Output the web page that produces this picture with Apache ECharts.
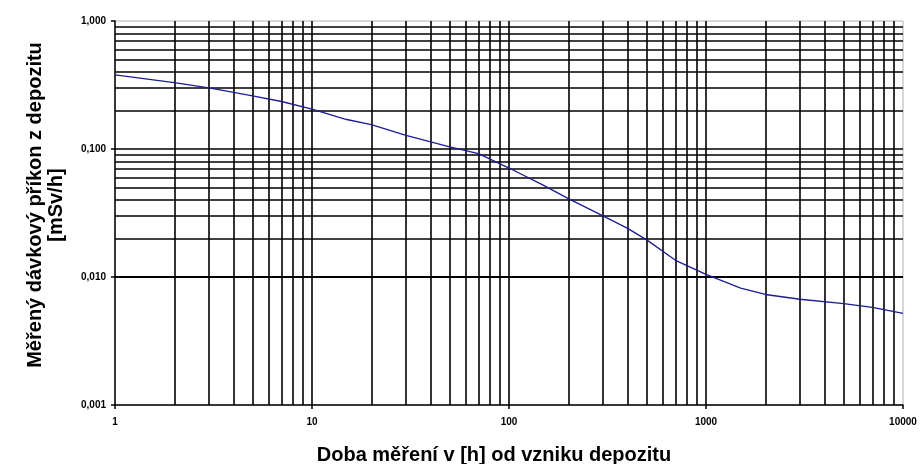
<!DOCTYPE html>
<html>
<head>
<meta charset="utf-8">
<script src="https://cdn.jsdelivr.net/npm/echarts@6/dist/echarts.min.js"></script>
<style>
  html, body { margin: 0; padding: 0; background: #fff; }
  #chart { width: 922px; height: 464px; }
</style>
</head>
<body>
<div id="chart"></div>
<script>
// Measurement time since deposition [h] and dose rate [mSv/h]
const hours = [1, 2, 3, 5, 7, 10, 15, 20, 30, 50, 70, 100, 150, 200, 300, 400, 500, 700, 1000, 1500, 2000, 3000, 5000, 7000, 10000];
const doseRate = [0.38, 0.33, 0.30, 0.26, 0.235, 0.205, 0.17, 0.155, 0.128, 0.104, 0.092, 0.071, 0.052, 0.041, 0.030, 0.024, 0.0195, 0.0135, 0.0105, 0.0082, 0.0073, 0.0067, 0.0062, 0.0058, 0.0052];

// Axis ranges (decades)
const xMin = 1, xMax = 10000;
const yMin = 0.001, yMax = 1;

const xTitle = 'Doba měření v [h] od vzniku depozitu';
const yTitle = 'Měřený dávkový příkon z depozitu\n[mSv/h]';

// Interior grid lines at 1..9 × each decade
function decadeLines(lo, hi) {
  const out = [];
  for (let d = lo; d < hi * 0.999; d *= 10) {
    for (let k = 1; k <= 9; k++) {
      const v = +(d * k).toPrecision(6);
      if (v > lo * 1.0001 && v < hi * 0.9999) out.push(v);
    }
  }
  return out;
}
const xGrid = decadeLines(xMin, xMax);
const yGrid = decadeLines(yMin, yMax);

const font = '"Liberation Sans", Arial, sans-serif';

const chart = echarts.init(document.getElementById('chart'));
chart.setOption({
  animation: false,
  backgroundColor: '#fff',
  grid: {
    left: 115, right: 19, top: 21, bottom: 59,
    outerBoundsMode: 'none',
    show: true, borderColor: '#b0b0b0', borderWidth: 1, backgroundColor: 'transparent'
  },
  xAxis: {
    type: 'log', logBase: 10, min: xMin, max: xMax,
    name: xTitle, nameLocation: 'middle', nameGap: 40,
    nameTextStyle: { fontFamily: font, fontWeight: 'bold', fontSize: 20, color: '#000', padding: [0, 30, 0, 0] },
    axisLine: { lineStyle: { color: '#000', width: 1.5 } },
    axisTick: { show: true, length: 4, lineStyle: { color: '#000', width: 1.5 } },
    axisLabel: {
      fontFamily: font, fontWeight: 'bold', fontSize: 10, color: '#000', margin: 12,
      formatter: v => String(Math.round(v))
    },
    splitLine: { show: false }
  },
  yAxis: {
    type: 'log', logBase: 10, min: yMin, max: yMax,
    name: yTitle, nameLocation: 'middle', nameGap: 48,
    nameTextStyle: { fontFamily: font, fontWeight: 'bold', fontSize: 20, color: '#000', lineHeight: 21, padding: [0, 0, 0, 16] },
    axisLine: { lineStyle: { color: '#000', width: 1.5 } },
    axisTick: { show: true, length: 4, lineStyle: { color: '#000', width: 1.5 } },
    axisLabel: {
      fontFamily: font, fontWeight: 'bold', fontSize: 10, color: '#000', margin: 9,
      formatter: v => v.toFixed(3).replace('.', ',')
    },
    splitLine: { show: false }
  },
  series: [
    {
      type: 'line',
      data: hours.map((h, i) => [h, doseRate[i]]),
      showSymbol: false,
      smooth: false,
      lineStyle: { color: '#1c1c96', width: 1.3 },
      z: 5,
      markLine: {
        silent: true,
        symbol: ['none', 'none'],
        label: { show: false },
        lineStyle: { color: '#000', width: 1.6, type: 'solid' },
        z: 1,
        data: xGrid.map(v => ({ xAxis: v })).concat(yGrid.map(v => ({ yAxis: v })))
      }
    }
  ]
});
</script>
</body>
</html>
